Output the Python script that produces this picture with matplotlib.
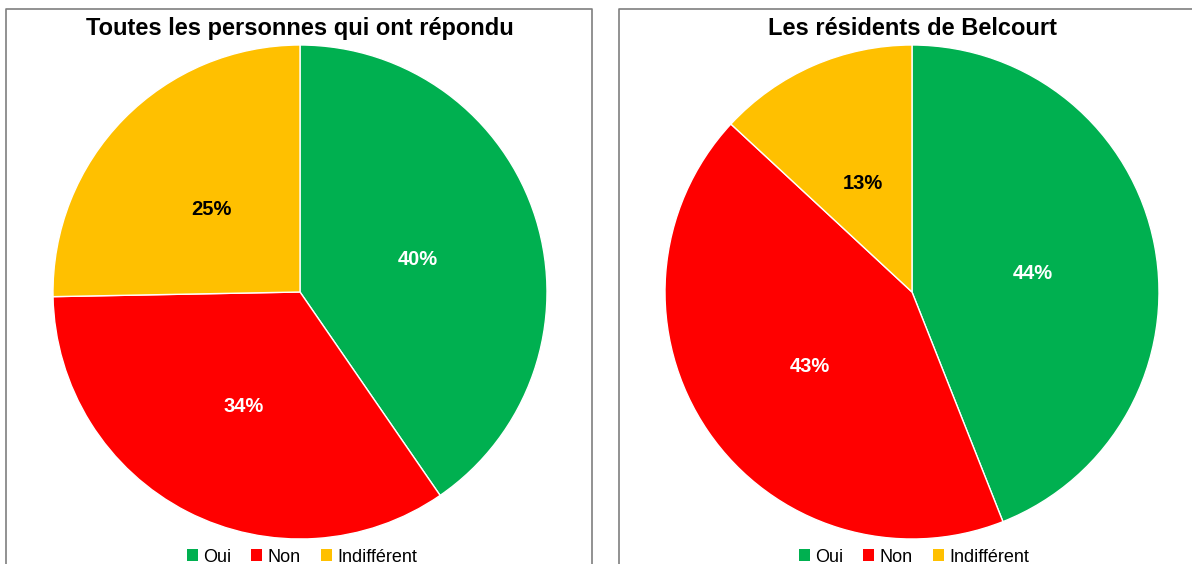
import matplotlib.pyplot as plt
from matplotlib.patches import Patch
from matplotlib.lines import Line2D
from matplotlib.transforms import offset_copy

plt.rcParams["font.family"] = ["Liberation Sans", "DejaVu Sans"]

categories = ["Oui", "Non", "Indifférent"]
colors = ["#00B050", "#FF0000", "#FFC000"]
label_colors = ["white", "white", "black"]

titles = ["Toutes les personnes qui ont répondu", "Les résidents de Belcourt"]
all_respondents = [40.4, 34.3, 25.3]
belcourt_residents = [44.0, 42.9, 13.1]
series = [all_respondents, belcourt_residents]

W, H = 1192, 564
fig = plt.figure(figsize=(W / 100, H / 100), dpi=100)

# panel frames (open at bottom / right like the source screenshot)
def px_line(xs, ys):
    fig.add_artist(Line2D([x / W for x in xs], [1 - y / H for y in ys],
                          color="#7f7f7f", lw=1.2, transform=fig.transFigure))

px_line([6, 6, 592, 592], [570, 9, 9, 570])
px_line([619, 619, 1200], [570, 9, 9])

centers = [300, 912]
radius = 247
cy = 292

for cx, title, vals in zip(centers, titles, series):
    ax = fig.add_axes([(cx - radius) / W, (H - cy - radius) / H,
                       2 * radius / W, 2 * radius / H])
    wedges, texts, autotexts = ax.pie(
        vals, colors=colors, startangle=90, counterclock=False,
        autopct="%.0f%%", pctdistance=0.5,
        wedgeprops=dict(edgecolor="white", linewidth=1),
        textprops=dict(fontsize=14.5, fontweight="bold"),
    )
    for t, c in zip(autotexts, label_colors):
        t.set_color(c)
        # nudge labels down a few pixels to sit like the original
        t.set_transform(offset_copy(t.get_transform(), fig=fig, y=-4.5, units="dots"))
    ax.set_xlim(-1, 1)
    ax.set_ylim(-1, 1)

    fig.text(cx / W, 1 - 35 / H, title, ha="center", va="baseline",
             fontsize=17, fontweight="bold")

    handles = [Patch(facecolor=c, edgecolor="none") for c in colors]
    fig.legend(handles, categories, loc="center", ncol=3,
               bbox_to_anchor=((cx + 2) / W, 1 - 557 / H),
               frameon=False, fontsize=13, handlelength=0.6,
               handleheight=0.6, handletextpad=0.3, columnspacing=1.1,
               borderaxespad=0, borderpad=0)

fig.savefig("out.png", dpi=100, facecolor="white")
